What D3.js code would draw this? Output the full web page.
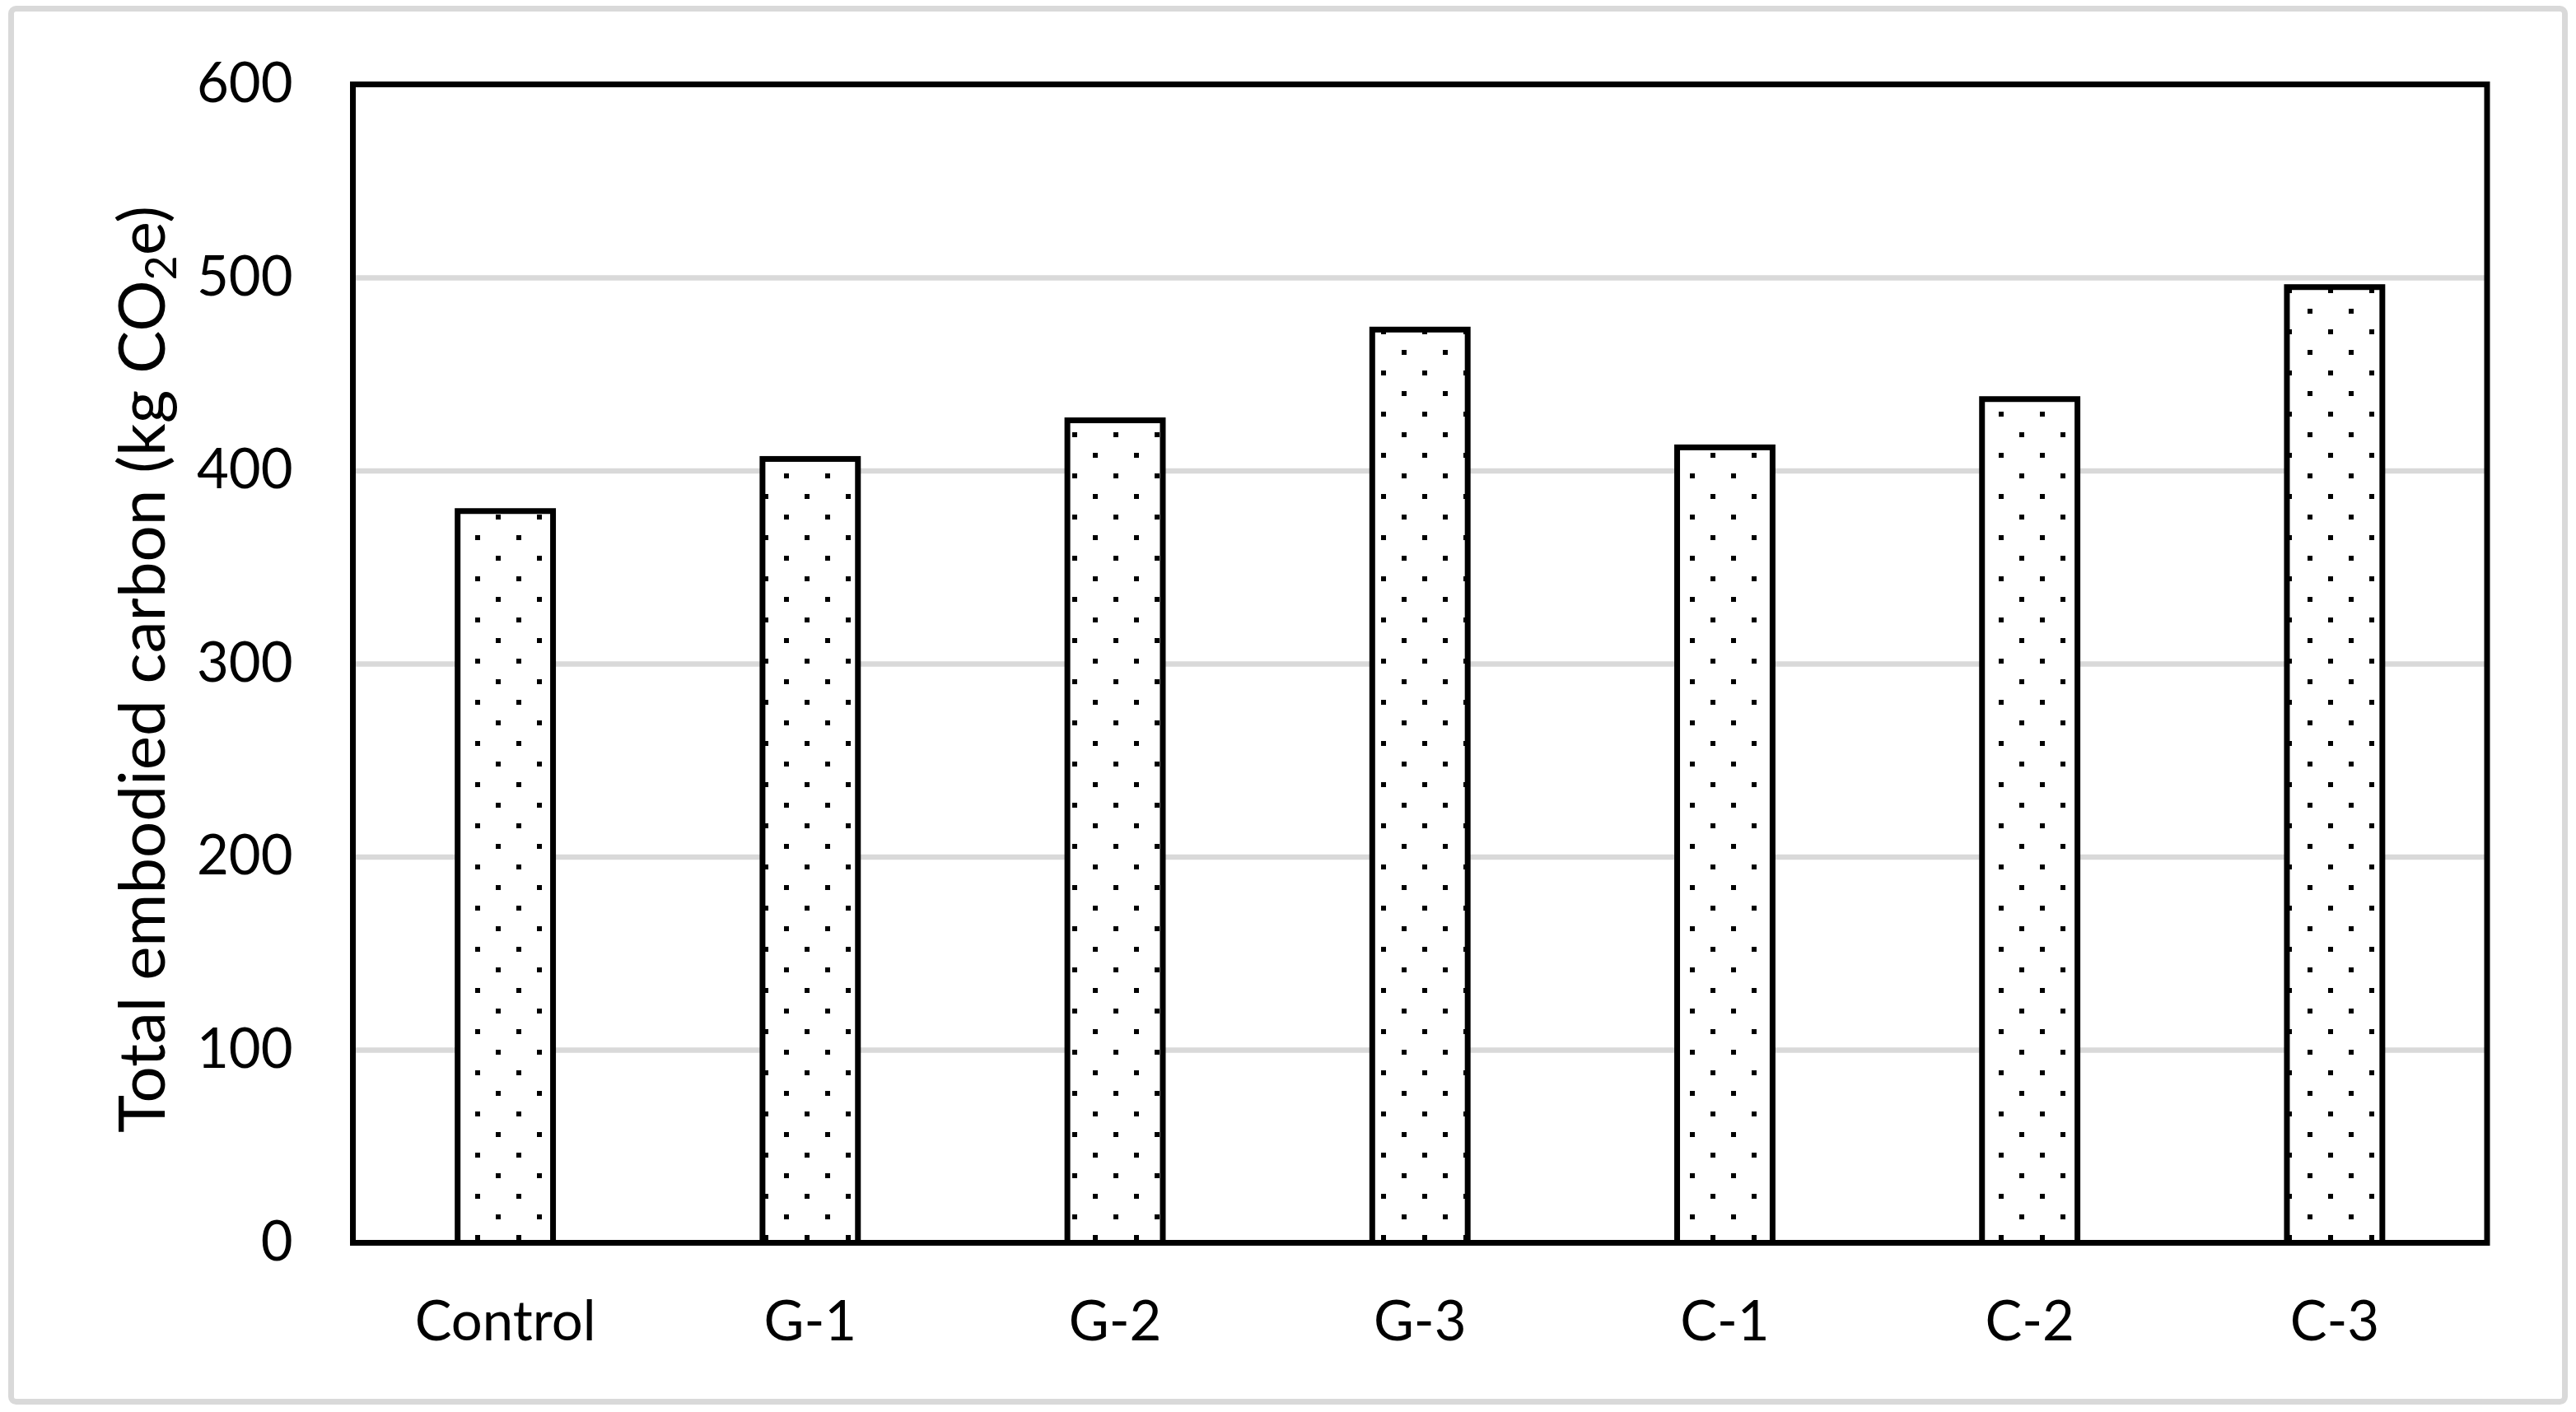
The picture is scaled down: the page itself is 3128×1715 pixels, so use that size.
<!DOCTYPE html>
<html>
<head>
<meta charset="utf-8">
<script src="https://cdn.jsdelivr.net/npm/d3@7"></script>
<style>
    body { margin: 0; background: #fff; }
    text { font-family: Lato, "Open Sans", sans-serif; fill: #000; }
</style>
</head>
<body>
<main></main>
<script>

//Datos
const categorias = ['Control', 'G-1', 'G-2', 'G-3', 'C-1', 'C-2', 'C-3'];
const carbono = [379, 406, 426, 473, 412, 437, 495];
const ticksY = [0, 100, 200, 300, 400, 500, 600];

//Variables (area del grafico)
var w = 3128, h = 1715;
var pIzq = 428.5, pDer = 3020, pArriba = 102.5, pAbajo = 1509.5;

const gris = '#d9d9d9';

//Define el svg
var svg = d3.select('main')
    .append('svg')
    .attr('width', w)
    .attr('height', h);

//Patron de puntos para las barras
var patron = svg.append('defs')
    .append('pattern')
    .attr('id', 'puntos')
    .attr('patternUnits', 'userSpaceOnUse')
    .attr('width', 50)
    .attr('height', 50);

patron.append('rect').attr('width', 50).attr('height', 50).attr('fill', '#fff');
patron.append('rect').attr('x', 27).attr('y', 0).attr('width', 6).attr('height', 6).attr('fill', '#000');
patron.append('rect').attr('x', 2).attr('y', 25).attr('width', 6).attr('height', 6).attr('fill', '#000');

//Borde exterior
svg.append('rect')
    .attr('x', 13.5)
    .attr('y', 10.5)
    .attr('width', w - 27)
    .attr('height', h - 23)
    .attr('rx', 6)
    .attr('fill', '#fff')
    .attr('stroke', gris)
    .attr('stroke-width', 7);

//Escalas
const xScale = d3.scaleBand()
    .domain(categorias)
    .range([pIzq, pDer])
    .paddingInner(0.687)
    .paddingOuter(0.687 / 2);

const yScale = d3.scaleLinear()
    .domain([0, 600])
    .range([pAbajo, pArriba]);

//Lineas de la rejilla
const rejilla = d3.axisLeft(yScale)
    .tickValues(ticksY.slice(1, -1))
    .tickSize(-(pDer - pIzq))
    .tickFormat('');

svg.append('g')
    .attr('transform', 'translate(' + pIzq + ',0)')
    .call(rejilla)
    .call((g) => g.select('.domain').remove())
    .selectAll('line')
    .attr('stroke', gris)
    .attr('stroke-width', 6.5);

//Barras
svg.selectAll('.barra')
    .data(carbono)
    .enter()
    .append('rect')
    .attr('class', 'barra')
    .attr('x', (d, i) => xScale(categorias[i]))
    .attr('y', (d) => yScale(d))
    .attr('width', xScale.bandwidth())
    .attr('height', (d) => yScale(0) - yScale(d))
    .attr('fill', 'url(#puntos)')
    .attr('stroke', '#000')
    .attr('stroke-width', 7);

//Marco del area del grafico
svg.append('rect')
    .attr('x', pIzq)
    .attr('y', pArriba)
    .attr('width', pDer - pIzq)
    .attr('height', pAbajo - pArriba)
    .attr('fill', 'none')
    .attr('stroke', '#000')
    .attr('stroke-width', 7);

//Eje Y
const yAxis = d3.axisLeft(yScale)
    .tickValues(ticksY)
    .tickSize(0)
    .tickPadding(73);

svg.append('g')
    .attr('transform', 'translate(' + pIzq + ',0)')
    .call(yAxis)
    .call((g) => g.select('.domain').remove())
    .selectAll('text')
    .attr('font-family', null)
    .style('font-size', '67px');

//Eje X
const xAxis = d3.axisBottom(xScale)
    .tickSize(0)
    .tickPadding(71);

svg.append('g')
    .attr('transform', 'translate(0,' + pAbajo + ')')
    .call(xAxis)
    .call((g) => g.select('.domain').remove())
    .selectAll('text')
    .attr('font-family', null)
    .style('font-size', '67px');

//Titulo del eje Y
var titulo = svg.append('text')
    .attr('transform', 'translate(200,813) rotate(-90)')
    .attr('text-anchor', 'middle')
    .attr('textLength', 1126)
    .attr('lengthAdjust', 'spacingAndGlyphs')
    .style('font-size', '78px');

titulo.append('tspan').text('Total embodied carbon (kg CO');
titulo.append('tspan').attr('dy', 14).style('font-size', '52px').text('2');
titulo.append('tspan').attr('dy', -14).text('e)');

</script>
</body>
</html>
